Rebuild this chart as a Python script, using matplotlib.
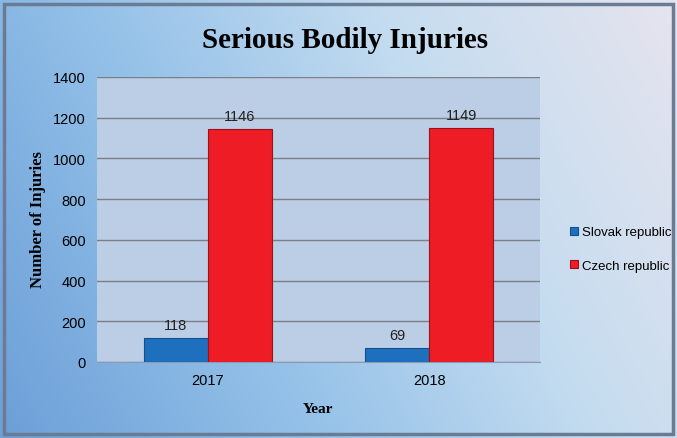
import numpy as np
import matplotlib
matplotlib.use("Agg")
import matplotlib.pyplot as plt
from matplotlib.colors import LinearSegmentedColormap
from matplotlib.patches import Rectangle

years = ["2017", "2018"]
slovak = [118, 69]
czech = [1146, 1149]
series_names = ["Slovak republic", "Czech republic"]
yticks = [0, 200, 400, 600, 800, 1000, 1200, 1400]

SANS = ["Liberation Sans", "DejaVu Sans"]

W, H = 677, 439
fig = plt.figure(figsize=(W / 100, H / 100), dpi=100)

# background gradient
bg = fig.add_axes([0, 0, 1, 1], zorder=-10)
xx, yy = np.meshgrid(np.linspace(0, 1, 300), np.linspace(0, 1, 200))
t = np.clip(0.75 * xx + 0.25 * (1 - yy), 0, 1)
cmap = LinearSegmentedColormap.from_list("bgc", ["#6d9fd8", "#92c0e8", "#c4dcf0", "#e6e4ee"])
bg.imshow(t, cmap=cmap, aspect="auto", extent=[0, 1, 0, 1], origin="upper")
bg.set_xlim(0, 1); bg.set_ylim(0, 1)
bg.axis("off")
# frame
fig.patches.append(Rectangle((0.006, 0.008), 0.988, 0.98, transform=fig.transFigure,
                             fill=False, edgecolor="#6a7c94", linewidth=2.5))

left, right, top, bottom = 97, 540, 78, 363
ax = fig.add_axes([left / W, 1 - bottom / H, (right - left) / W, (bottom - top) / H])
ax.set_facecolor("#bccde6")
x = np.arange(len(years))
bw = 0.29
b1 = ax.bar(x - bw / 2, slovak, bw, color="#1f6fbf", edgecolor="#154f8c", linewidth=0.8,
            label=series_names[0], zorder=3)
b2 = ax.bar(x + bw / 2, czech, bw, color="#ee1c25", edgecolor="#9a1218", linewidth=0.8,
            label=series_names[1], zorder=3)
for rects, vals in ((b1, slovak), (b2, czech)):
    for r, v in zip(rects, vals):
        ax.text(r.get_x() + r.get_width() / 2, v + 28, str(v), ha="center", va="bottom",
                fontsize=10.5, color="#222222", zorder=4, family=SANS)

ax.set_xlim(-0.5, 1.5)
ax.set_ylim(0, 1400)
ax.set_yticks(yticks)
ax.set_yticklabels([str(v) for v in yticks], fontsize=10.5, family=SANS)
ax.set_xticks(x)
ax.set_xticklabels(years, fontsize=10.5, family=SANS)
ax.yaxis.grid(True, color="#7a7f88", linewidth=1)
ax.set_axisbelow(True)
for s in ["top", "right", "left"]:
    ax.spines[s].set_visible(False)
ax.spines["bottom"].set_color("#8a9bb4")
ax.tick_params(length=0, pad=8)

fig.text(345 / W, 1 - 40 / H, "Serious Bodily Injuries", ha="center", va="center",
         fontsize=21, fontweight="bold", family="Liberation Serif")
fig.text(38 / W, 1 - 220 / H, "Number of Injuries", ha="center", va="center", rotation=90,
         fontsize=12, fontweight="bold", family="Liberation Serif")
fig.text(318 / W, 1 - 410 / H, "Year", ha="center", va="center",
         fontsize=11, fontweight="bold", family="Liberation Serif")

leg = fig.legend(handles=[b1, b2], labels=series_names, loc="center left",
                 bbox_to_anchor=(558 / W, 1 - 250 / H), frameon=False,
                 prop={"family": SANS, "size": 9.5},
                 handlelength=0.6, handleheight=0.6, labelspacing=1.6, handletextpad=0.3)

fig.savefig("out.png", dpi=100)
